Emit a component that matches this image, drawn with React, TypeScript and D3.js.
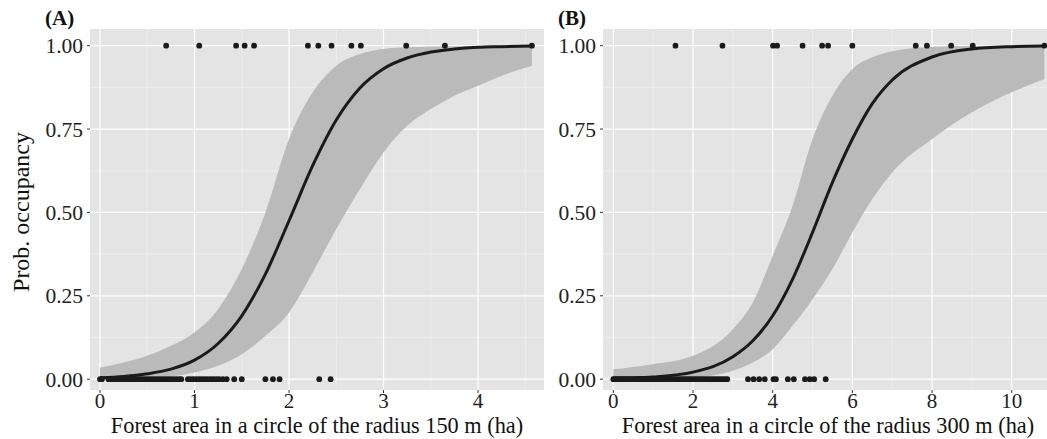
import React from "react";
import * as d3 from "d3";

// observed occupancy, panel A (150 m)
const presA = [0.7, 1.05, 1.44, 1.53, 1.63, 2.2, 2.31, 2.45, 2.66, 2.76, 3.24, 3.65, 4.57];
const absA = [0, 0.02, 0.09, 0.12, 0.15, 0.18, 0.21, 0.24, 0.27, 0.3, 0.33, 0.36, 0.39, 0.42, 0.45, 0.48,
  0.51, 0.54, 0.57, 0.6, 0.63, 0.66, 0.69, 0.72, 0.75, 0.78, 0.81, 0.84, 0.86, 0.93, 0.96, 0.99, 1.02,
  1.05, 1.08, 1.11, 1.14, 1.17, 1.2, 1.23, 1.26, 1.3, 1.34, 1.42, 1.5, 1.75, 1.83, 1.9, 2.32, 2.44];

// fitted curve + ribbon, panel A
const fitXA = [0, 0.25, 0.5, 0.75, 1.0, 1.25, 1.5, 1.75, 2.0, 2.25, 2.5, 2.75, 3.0, 3.25, 3.5, 3.75, 4.0, 4.25, 4.57];
const fitA = [0.004, 0.008, 0.016, 0.03, 0.057, 0.107, 0.19, 0.315, 0.475, 0.64, 0.777, 0.873, 0.931, 0.963, 0.981, 0.99, 0.995, 0.997, 0.999];
const upA = [0.035, 0.05, 0.07, 0.1, 0.14, 0.21, 0.33, 0.5, 0.72, 0.86, 0.94, 0.975, 0.99, 0.995, 0.997, 0.998, 0.999, 0.9995, 0.9999];
const loA = [0.0005, 0.001, 0.003, 0.008, 0.02, 0.04, 0.075, 0.13, 0.2, 0.32, 0.45, 0.57, 0.68, 0.76, 0.81, 0.85, 0.88, 0.91, 0.94];

// observed occupancy, panel B (300 m)
const presB = [1.56, 2.74, 4.01, 4.11, 4.75, 5.24, 5.39, 6.0, 7.59, 7.87, 8.48, 9.02, 10.82];
const absB = [0, 0.03, 0.06, 0.1, 0.14, 0.18, 0.22, 0.26, 0.3, 0.35, 0.4, 0.45, 0.5, 0.55, 0.6, 0.65, 0.7,
  0.76, 0.82, 0.88, 0.94, 1.0, 1.06, 1.12, 1.18, 1.24, 1.3, 1.36, 1.42, 1.48, 1.54, 1.6, 1.66, 1.72, 1.78,
  1.84, 1.9, 1.96, 2.02, 2.08, 2.14, 2.2, 2.26, 2.32, 2.38, 2.44, 2.5, 2.56, 2.62, 2.68, 2.74, 2.8, 2.86,
  3.38, 3.52, 3.66, 3.8, 4.02, 4.08, 4.38, 4.53, 4.81, 4.93, 5.04, 5.33];

const fitXB = [0, 1, 2, 3, 3.5, 4, 4.5, 5, 5.5, 6, 6.5, 7, 8, 9, 10, 10.82];
const fitB = [0.002, 0.0064, 0.021, 0.067, 0.115, 0.19, 0.3, 0.44, 0.59, 0.72, 0.826, 0.897, 0.966, 0.99, 0.997, 0.9988];
const upB = [0.03, 0.045, 0.07, 0.15, 0.23, 0.37, 0.52, 0.72, 0.85, 0.93, 0.965, 0.983, 0.996, 0.999, 0.9998, 1];
const loB = [0.0002, 0.001, 0.005, 0.025, 0.05, 0.09, 0.16, 0.24, 0.33, 0.44, 0.54, 0.62, 0.72, 0.8, 0.86, 0.9];

const yTicks = [0, 0.25, 0.5, 0.75, 1];
const yMinor = [0.125, 0.375, 0.625, 0.875];
const xTicksA = [0, 1, 2, 3, 4];
const xMinorA = [0.5, 1.5, 2.5, 3.5, 4.5];
const xTicksB = [0, 2, 4, 6, 8, 10];
const xMinorB = [1, 3, 5, 7, 9, 11];

const FONT = "'Liberation Serif', 'Times New Roman', serif";
const top = 29, bottom = 390;

function Panel({ left, right, x0, x1, xTicks, xMinor, fitX, fit, up, lo, pres, abs, tag, xTitle }) {
  const x = d3.scaleLinear().domain([x0, x1]).range([left, right]);
  const y = d3.scaleLinear().domain([-0.0325, 1.05]).range([bottom, top]);
  const band = d3.area<number>()
    .x((_, i) => x(fitX[i]))
    .y0((_, i) => y(lo[i]))
    .y1((_, i) => y(up[i]))
    .curve(d3.curveMonotoneX);
  const ln = d3.line<number>()
    .x((_, i) => x(fitX[i]))
    .y(d => y(d))
    .curve(d3.curveMonotoneX);
  const mid = (left + right) / 2;
  return (
    <g>
      <rect x={left} y={top} width={right - left} height={bottom - top} fill="#e4e4e4" />
      {yMinor.map(v => <line key={"ym" + v} x1={left} x2={right} y1={y(v)} y2={y(v)} stroke="#f2f2f2" strokeWidth={0.6} />)}
      {xMinor.map(v => <line key={"xm" + v} x1={x(v)} x2={x(v)} y1={top} y2={bottom} stroke="#f2f2f2" strokeWidth={0.6} />)}
      {yTicks.map(v => <line key={"yt" + v} x1={left} x2={right} y1={y(v)} y2={y(v)} stroke="#fff" strokeWidth={1.2} />)}
      {xTicks.map(v => <line key={"xt" + v} x1={x(v)} x2={x(v)} y1={top} y2={bottom} stroke="#fff" strokeWidth={1.2} />)}
      <path d={band(fit)!} fill="#bababa" />
      <path d={ln(fit)!} fill="none" stroke="#1a1a1a" strokeWidth={3} />
      {pres.map((v, i) => <circle key={"p" + i} cx={x(v)} cy={y(1)} r={2.9} fill="#1a1a1a" />)}
      {abs.map((v, i) => <circle key={"a" + i} cx={x(v)} cy={y(0)} r={2.9} fill="#1a1a1a" />)}
      {yTicks.map(v => (
        <g key={"yl" + v}>
          <line x1={left - 3} x2={left} y1={y(v)} y2={y(v)} stroke="#333" />
          <text x={left - 7} y={y(v)} dy="0.35em" textAnchor="end" fontSize={21.5} fill="#222">{d3.format(".2f")(v)}</text>
        </g>
      ))}
      {xTicks.map(v => (
        <g key={"xl" + v}>
          <line x1={x(v)} x2={x(v)} y1={bottom} y2={bottom + 3} stroke="#333" />
          <text x={x(v)} y={408} textAnchor="middle" fontSize={21} fill="#222">{v}</text>
        </g>
      ))}
      <text x={left - 45} y={25} fontSize={21} fontWeight="bold" fill="#111">{tag}</text>
      <text x={mid} y={433} textAnchor="middle" fontSize={22.3} fill="#111">{xTitle}</text>
    </g>
  );
}

export default function App() {
  return (
    <svg width={1047} height={439} style={{ position: "absolute", left: 0, top: 0, background: "#fff" }} fontFamily={FONT}>
      <Panel left={90} right={544} x0={-0.106} x1={4.698} xTicks={xTicksA} xMinor={xMinorA}
        fitX={fitXA} fit={fitA} up={upA} lo={loA} pres={presA} abs={absA} tag="(A)"
        xTitle="Forest area in a circle of the radius 150 m (ha)" />
      <Panel left={603} right={1053} x0={-0.259} x1={11.035} xTicks={xTicksB} xMinor={xMinorB}
        fitX={fitXB} fit={fitB} up={upB} lo={loB} pres={presB} abs={absB} tag="(B)"
        xTitle="Forest area in a circle of the radius 300 m (ha)" />
      <text transform="translate(29,212) rotate(-90)" textAnchor="middle" fontSize={24} fill="#111">Prob. occupancy</text>
    </svg>
  );
}
